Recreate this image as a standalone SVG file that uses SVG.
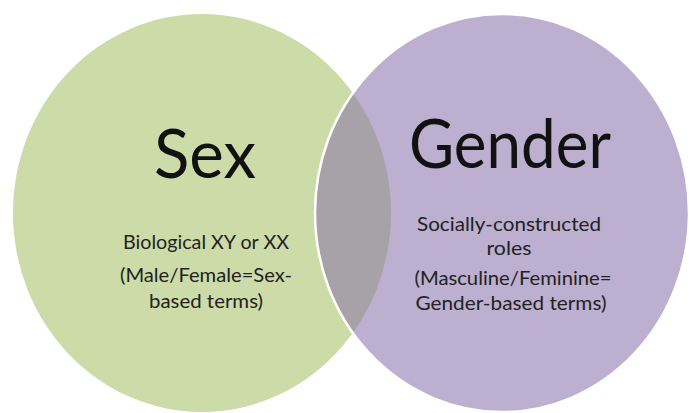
<svg xmlns="http://www.w3.org/2000/svg" width="689" height="413" viewBox="0 0 689 413">
  <defs>
    <clipPath id="clipGreen">
      <ellipse cx="202" cy="213" rx="189" ry="199"/>
    </clipPath>
    <style>
      .big { font-family: Lato, "Open Sans", "Liberation Sans", sans-serif; font-size: 68px; fill: #111; text-anchor: middle; }
      .small { font-family: Lato, "Open Sans", "Liberation Sans", sans-serif; font-size: 19px; fill: #222; text-anchor: middle; }
    </style>
  </defs>
  <rect width="689" height="413" fill="#ffffff"/>
  <g id="sex">
    <ellipse cx="202" cy="213" rx="189" ry="199" fill="#ccdba8"/>
  </g>
  <g id="gender">
    <ellipse cx="502" cy="213" rx="187" ry="199" fill="#bcafd0"/>
  </g>
  <g id="overlap">
    <ellipse cx="502" cy="213" rx="187" ry="199" fill="#a7a2a8" clip-path="url(#clipGreen)"/>
    <ellipse cx="502" cy="213" rx="187" ry="199" fill="none" stroke="#ffffff" stroke-width="2.5"/>
  </g>
  <g id="connectors"></g>
  <g id="sex-text">
    <text class="big" x="205" y="178" textLength="102" lengthAdjust="spacingAndGlyphs">Sex</text>
    <text class="small" x="206" y="249" textLength="166" lengthAdjust="spacingAndGlyphs">Biological XY or XX</text>
    <text class="small" x="206" y="282" textLength="172" lengthAdjust="spacingAndGlyphs">(Male/Female=Sex-</text>
    <text class="small" x="206" y="308" textLength="114" lengthAdjust="spacingAndGlyphs">based terms)</text>
  </g>
  <g id="gender-text">
    <text class="big" x="510" y="168" textLength="202" lengthAdjust="spacingAndGlyphs">Gender</text>
    <text class="small" x="509" y="231" textLength="184" lengthAdjust="spacingAndGlyphs">Socially-constructed</text>
    <text class="small" x="509" y="255" textLength="45" lengthAdjust="spacingAndGlyphs">roles</text>
    <text class="small" x="513" y="285" textLength="197" lengthAdjust="spacingAndGlyphs">(Masculine/Feminine=</text>
    <text class="small" x="511" y="310" textLength="191" lengthAdjust="spacingAndGlyphs">Gender-based terms)</text>
  </g>
</svg>
